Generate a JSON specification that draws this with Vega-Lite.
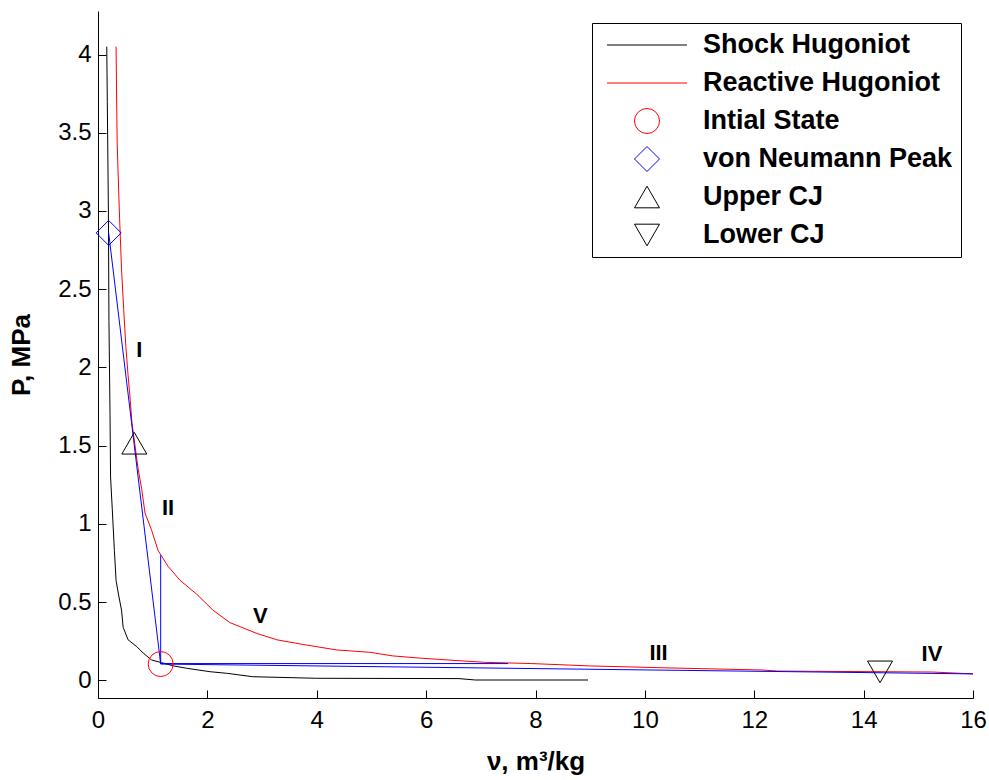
{
  "$schema": "https://vega.github.io/schema/vega-lite/v6.json",
  "width": 875,
  "height": 687,
  "autosize": "none",
  "padding": {"left": 98, "top": 11, "right": 16, "bottom": 82},
  "background": "white",
  "datasets": {
    "curves": [
      {"series": "Shock Hugoniot", "i": 1, "v": 0.16, "P": 4.05},
      {"series": "Shock Hugoniot", "i": 2, "v": 0.17, "P": 3.7},
      {"series": "Shock Hugoniot", "i": 3, "v": 0.19, "P": 3.0},
      {"series": "Shock Hugoniot", "i": 4, "v": 0.2, "P": 2.3},
      {"series": "Shock Hugoniot", "i": 5, "v": 0.22, "P": 1.7},
      {"series": "Shock Hugoniot", "i": 6, "v": 0.23, "P": 1.3},
      {"series": "Shock Hugoniot", "i": 7, "v": 0.26, "P": 1.1},
      {"series": "Shock Hugoniot", "i": 8, "v": 0.3, "P": 0.83},
      {"series": "Shock Hugoniot", "i": 9, "v": 0.33, "P": 0.64},
      {"series": "Shock Hugoniot", "i": 10, "v": 0.38, "P": 0.54},
      {"series": "Shock Hugoniot", "i": 11, "v": 0.43, "P": 0.45},
      {"series": "Shock Hugoniot", "i": 12, "v": 0.46, "P": 0.34},
      {"series": "Shock Hugoniot", "i": 13, "v": 0.55, "P": 0.26},
      {"series": "Shock Hugoniot", "i": 14, "v": 0.71, "P": 0.216},
      {"series": "Shock Hugoniot", "i": 15, "v": 0.83, "P": 0.174},
      {"series": "Shock Hugoniot", "i": 16, "v": 0.98, "P": 0.131},
      {"series": "Shock Hugoniot", "i": 17, "v": 1.16, "P": 0.114},
      {"series": "Shock Hugoniot", "i": 18, "v": 1.38, "P": 0.093},
      {"series": "Shock Hugoniot", "i": 19, "v": 1.62, "P": 0.078},
      {"series": "Shock Hugoniot", "i": 20, "v": 2.05, "P": 0.056},
      {"series": "Shock Hugoniot", "i": 21, "v": 2.35, "P": 0.046},
      {"series": "Shock Hugoniot", "i": 22, "v": 2.83, "P": 0.024},
      {"series": "Shock Hugoniot", "i": 23, "v": 4.0, "P": 0.014},
      {"series": "Shock Hugoniot", "i": 24, "v": 6.6, "P": 0.012},
      {"series": "Shock Hugoniot", "i": 25, "v": 6.9, "P": 0.003},
      {"series": "Shock Hugoniot", "i": 26, "v": 8.96, "P": 0.003},
      {"series": "Reactive Hugoniot", "i": 1, "v": 0.33, "P": 4.05},
      {"series": "Reactive Hugoniot", "i": 2, "v": 0.35, "P": 3.44},
      {"series": "Reactive Hugoniot", "i": 3, "v": 0.39, "P": 3.0},
      {"series": "Reactive Hugoniot", "i": 4, "v": 0.43, "P": 2.63},
      {"series": "Reactive Hugoniot", "i": 5, "v": 0.47, "P": 2.37},
      {"series": "Reactive Hugoniot", "i": 6, "v": 0.51, "P": 2.13},
      {"series": "Reactive Hugoniot", "i": 7, "v": 0.55, "P": 1.95},
      {"series": "Reactive Hugoniot", "i": 8, "v": 0.59, "P": 1.79},
      {"series": "Reactive Hugoniot", "i": 9, "v": 0.62, "P": 1.65},
      {"series": "Reactive Hugoniot", "i": 10, "v": 0.73, "P": 1.36},
      {"series": "Reactive Hugoniot", "i": 11, "v": 0.8, "P": 1.22},
      {"series": "Reactive Hugoniot", "i": 12, "v": 0.86, "P": 1.07},
      {"series": "Reactive Hugoniot", "i": 13, "v": 0.98, "P": 0.96},
      {"series": "Reactive Hugoniot", "i": 14, "v": 1.1, "P": 0.83},
      {"series": "Reactive Hugoniot", "i": 15, "v": 1.28, "P": 0.73},
      {"series": "Reactive Hugoniot", "i": 16, "v": 1.5, "P": 0.64},
      {"series": "Reactive Hugoniot", "i": 17, "v": 1.81, "P": 0.55},
      {"series": "Reactive Hugoniot", "i": 18, "v": 2.1, "P": 0.45},
      {"series": "Reactive Hugoniot", "i": 19, "v": 2.41, "P": 0.37},
      {"series": "Reactive Hugoniot", "i": 20, "v": 2.91, "P": 0.3},
      {"series": "Reactive Hugoniot", "i": 21, "v": 3.27, "P": 0.26},
      {"series": "Reactive Hugoniot", "i": 22, "v": 3.75, "P": 0.23},
      {"series": "Reactive Hugoniot", "i": 23, "v": 4.37, "P": 0.195},
      {"series": "Reactive Hugoniot", "i": 24, "v": 4.97, "P": 0.18},
      {"series": "Reactive Hugoniot", "i": 25, "v": 5.39, "P": 0.157},
      {"series": "Reactive Hugoniot", "i": 26, "v": 5.85, "P": 0.144},
      {"series": "Reactive Hugoniot", "i": 27, "v": 6.44, "P": 0.13},
      {"series": "Reactive Hugoniot", "i": 28, "v": 7.07, "P": 0.116},
      {"series": "Reactive Hugoniot", "i": 29, "v": 7.93, "P": 0.108},
      {"series": "Reactive Hugoniot", "i": 30, "v": 8.99, "P": 0.093},
      {"series": "Reactive Hugoniot", "i": 31, "v": 10.46, "P": 0.08},
      {"series": "Reactive Hugoniot", "i": 32, "v": 12.14, "P": 0.067},
      {"series": "Reactive Hugoniot", "i": 33, "v": 12.43, "P": 0.06},
      {"series": "Reactive Hugoniot", "i": 34, "v": 15.26, "P": 0.054},
      {"series": "Reactive Hugoniot", "i": 35, "v": 16.0, "P": 0.042}
    ],
    "rays": [
      {"seg": "upper Rayleigh", "i": 1, "v": 0.195, "P": 2.86},
      {"seg": "upper Rayleigh", "i": 2, "v": 1.146, "P": 0.105},
      {"seg": "constant volume", "i": 1, "v": 1.146, "P": 0.105},
      {"seg": "constant volume", "i": 2, "v": 1.146, "P": 0.8},
      {"seg": "constant pressure", "i": 1, "v": 1.146, "P": 0.108},
      {"seg": "constant pressure", "i": 2, "v": 7.5, "P": 0.108},
      {"seg": "lower Rayleigh", "i": 1, "v": 1.146, "P": 0.105},
      {"seg": "lower Rayleigh", "i": 2, "v": 16.0, "P": 0.042}
    ],
    "markers": [
      {"series": "Intial State", "v": 1.146, "P": 0.105},
      {"series": "von Neumann Peak", "v": 0.195, "P": 2.86},
      {"series": "Upper CJ", "v": 0.664, "P": 1.516},
      {"series": "Lower CJ", "v": 14.3, "P": 0.055}
    ],
    "labels": [
      {"label": "I", "v": 0.755, "P": 2.11},
      {"label": "II", "v": 1.28, "P": 1.1},
      {"label": "V", "v": 2.97, "P": 0.41},
      {"label": "III", "v": 10.25, "P": 0.173},
      {"label": "IV", "v": 15.25, "P": 0.17}
    ]
  },
  "encoding": {
    "x": {
      "field": "v", "type": "quantitative",
      "scale": {"domain": [0, 16], "nice": false, "zero": false},
      "axis": {"values": [0, 2, 4, 6, 8, 10, 12, 14, 16], "title": "ν, m³/kg", "labelPadding": 18, "titlePadding": 16}
    },
    "y": {
      "field": "P", "type": "quantitative",
      "scale": {"domain": [-0.112, 4.278], "nice": false, "zero": false},
      "axis": {"values": [0, 0.5, 1, 1.5, 2, 2.5, 3, 3.5, 4], "format": "~g", "title": "P, MPa", "labelPadding": 15, "titlePadding": 23}
    }
  },
  "layer": [
    {
      "data": {"name": "curves"},
      "mark": {"type": "line", "strokeWidth": 1, "clip": true},
      "encoding": {
        "stroke": {
          "field": "series", "type": "nominal",
          "scale": {
            "domain": ["Shock Hugoniot", "Reactive Hugoniot", "Intial State", "von Neumann Peak", "Upper CJ", "Lower CJ"],
            "range": ["#000000", "#ff0000", "#ff0000", "#0000ff", "#000000", "#000000"]
          },
          "legend": {"title": null}
        },
        "order": {"field": "i", "type": "quantitative"}
      }
    },
    {
      "data": {"name": "rays"},
      "mark": {"type": "line", "strokeWidth": 1, "color": "#0000ff", "clip": true},
      "encoding": {
        "detail": {"field": "seg", "type": "nominal"},
        "order": {"field": "i", "type": "quantitative"}
      }
    },
    {
      "data": {"name": "markers"},
      "mark": {"type": "point", "filled": false, "strokeWidth": 1, "opacity": 1},
      "encoding": {
        "stroke": {
          "field": "series", "type": "nominal",
          "scale": {
            "domain": ["Shock Hugoniot", "Reactive Hugoniot", "Intial State", "von Neumann Peak", "Upper CJ", "Lower CJ"],
            "range": ["#000000", "#ff0000", "#ff0000", "#0000ff", "#000000", "#000000"]
          },
          "legend": {"title": null}
        },
        "shape": {
          "field": "series", "type": "nominal",
          "scale": {
            "domain": ["Shock Hugoniot", "Reactive Hugoniot", "Intial State", "von Neumann Peak", "Upper CJ", "Lower CJ"],
            "range": ["M-3.2,0L3.2,0", "M-3.2,0L3.2,0", "circle", "diamond", "triangle-up", "triangle-down"]
          },
          "legend": {"title": null}
        },
        "size": {
          "field": "series", "type": "nominal",
          "scale": {
            "domain": ["Shock Hugoniot", "Reactive Hugoniot", "Intial State", "von Neumann Peak", "Upper CJ", "Lower CJ"],
            "range": [625, 625, 625, 676, 784, 784]
          },
          "legend": {"title": null}
        }
      }
    },
    {
      "data": {"name": "labels"},
      "mark": {"type": "text", "font": "Liberation Sans", "fontWeight": "bold", "fontSize": 22, "align": "center", "baseline": "middle", "color": "black"},
      "encoding": {"text": {"field": "label", "type": "nominal"}}
    }
  ],
  "config": {
    "font": "Liberation Sans",
    "view": {"stroke": null},
    "axis": {
      "grid": false,
      "domainColor": "black",
      "domainWidth": 1,
      "tickColor": "black",
      "tickWidth": 1,
      "tickSize": -8,
      "labelColor": "black",
      "labelFont": "Liberation Sans",
      "labelFontSize": 24,
      "labelFlush": false,
      "labelOverlap": false,
      "titleColor": "black",
      "titleFont": "Liberation Sans",
      "titleFontSize": 26,
      "titleFontWeight": "bold"
    },
    "legend": {
      "orient": "top-right",
      "offset": 12,
      "padding": 8,
      "strokeColor": "black",
      "strokeWidth": 1,
      "fillColor": "white",
      "labelFont": "Liberation Sans",
      "labelFontSize": 27,
      "labelFontWeight": "bold",
      "labelColor": "black",
      "labelLimit": 400,
      "symbolOffset": 33.5,
      "labelOffset": 42.5,
      "clipHeight": 28,
      "rowPadding": 10,
      "symbolStrokeWidth": 1,
      "symbolFillColor": "transparent"
    }
  }
}
